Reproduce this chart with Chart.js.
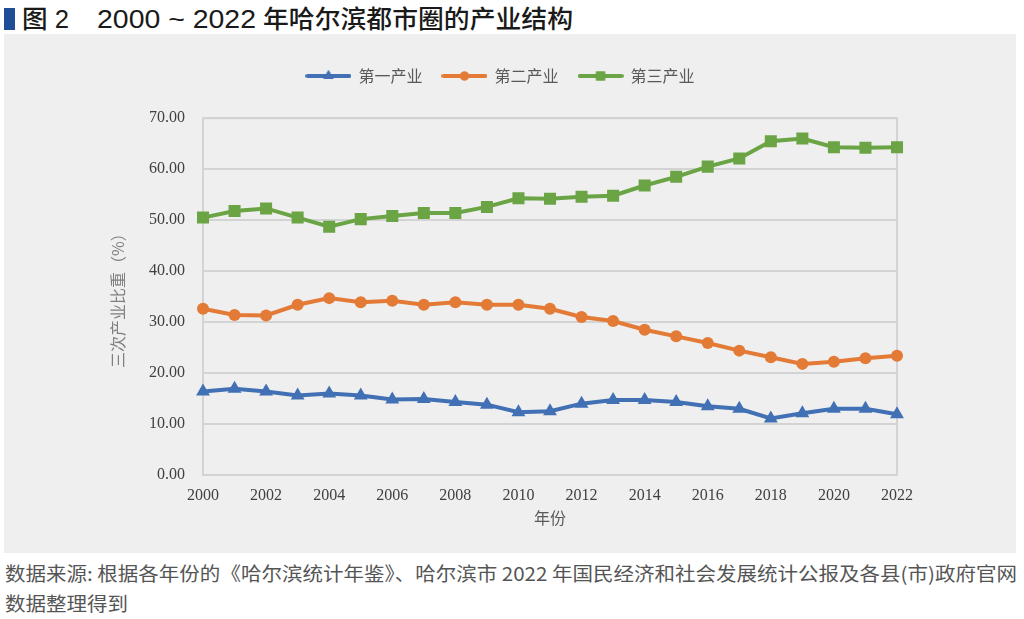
<!DOCTYPE html>
<html lang="zh">
<head>
<meta charset="UTF-8">
<title>2000~2022年哈尔滨都市圈的产业结构</title>
<script src="https://cdn.jsdelivr.net/npm/chart.js"></script>
<style>
    body {
        margin: 0;
        padding: 0;
        background: #fff;
        width: 1024px;
        height: 619px;
        position: relative;
        overflow: hidden;
        font-family: "Noto Sans CJK SC", "Noto Sans", sans-serif;
    }
    .bar {
        position: absolute;
        left: 4px;
        top: 8px;
        width: 11px;
        height: 22px;
        background: #1f4e96;
    }
    .title {
        position: absolute;
        top: 4px;
        font-family: "Liberation Sans", "Noto Sans CJK SC", sans-serif;
        font-size: 25px;
        font-weight: 500;
        color: #1a1a1a;
        white-space: nowrap;
        line-height: 30px;
        transform-origin: 0 0;
    }
    .panel {
        position: absolute;
        left: 4px;
        top: 34px;
        width: 1012px;
        height: 519px;
        background: #eeefee;
    }
    .source {
        position: absolute;
        left: 5px;
        top: 558px;
        font-size: 19px;
        line-height: 30px;
        color: #555;
        white-space: nowrap;
        transform-origin: 0 0;
    }
</style>
</head>
<body>
    <div class="bar"></div>
    <div class="title" id="titleNo" style="left: 22px;">图 2</div>
    <div class="title" id="titleYears" style="left: 97px;">2000 ~ 2022</div>
    <div class="title" id="titleText" style="left: 263px;">年哈尔滨都市圈的产业结构</div>
    <div class="panel"><canvas id="chart" width="1012" height="519"></canvas></div>
    <div class="source" id="source"><span id="line1">数据来源: 根据各年份的《哈尔滨统计年鉴》、哈尔滨市 2022 年国民经济和社会发展统计公报及各县(市)政府官网</span><br>数据整理得到</div>

<script>
    const years = ['2000', '2001', '2002', '2003', '2004', '2005', '2006', '2007', '2008', '2009', '2010', '2011',
        '2012', '2013', '2014', '2015', '2016', '2017', '2018', '2019', '2020', '2021', '2022'];
    const primary = [16.4, 16.9, 16.4, 15.6, 16.0, 15.6, 14.8, 14.9, 14.3, 13.8, 12.3, 12.5,
        14.0, 14.7, 14.7, 14.3, 13.5, 13.0, 11.1, 12.1, 13.0, 13.0, 11.9];
    const secondary = [32.6, 31.4, 31.3, 33.4, 34.7, 33.9, 34.2, 33.4, 33.9, 33.4, 33.4, 32.6,
        31.0, 30.2, 28.5, 27.2, 25.9, 24.4, 23.1, 21.8, 22.2, 22.9, 23.4];
    const tertiary = [50.5, 51.8, 52.3, 50.5, 48.7, 50.2, 50.8, 51.4, 51.4, 52.6, 54.3, 54.2,
        54.6, 54.8, 56.8, 58.5, 60.5, 62.1, 65.5, 66.0, 64.3, 64.2, 64.3];
    const seriesNames = ['第一产业', '第二产业', '第三产业'];
    const colors = ['#4170b4', '#e37a36', '#6aa444'];
    const markers = ['triangle', 'circle', 'rect'];
    const markerSizes = [8, 6, 8.5];

    // stretch/squeeze text blocks to the widths they have in the original
    function fitWidth(id, w) {
        const el = document.getElementById(id);
        el.style.transform = 'scaleX(' + (w / el.getBoundingClientRect().width) + ')';
    }
    document.getElementById('source').style.transform =
        'scaleX(' + (1012 / document.getElementById('line1').getBoundingClientRect().width) + ')';
    fitWidth('titleNo', 47);
    fitWidth('titleYears', 159);
    fitWidth('titleText', 310);

    // small legend icons: line with the marker in the middle
    function legendIcon(color, style, r) {
        const c = document.createElement('canvas');
        c.width = 46;
        c.height = 18;
        const g = c.getContext('2d');
        g.strokeStyle = color;
        g.fillStyle = color;
        g.lineWidth = 4;
        g.lineCap = 'round';
        g.beginPath();
        g.moveTo(2, 9);
        g.lineTo(44, 9);
        g.stroke();
        Chart.helpers.drawPoint(g, { pointStyle: style, radius: r * 0.75, borderWidth: 0 }, 23, 9);
        g.fill();
        return c;
    }

    const frame = {
        id: 'frame',
        beforeDatasetsDraw(chart) {
            const a = chart.chartArea;
            const ctx = chart.ctx;
            ctx.save();
            ctx.strokeStyle = '#d3d3d3';
            ctx.lineWidth = 2;
            ctx.strokeRect(a.left, a.top, a.right - a.left, a.bottom - a.top);
            ctx.restore();
        }
    };

    const datasets = [primary, secondary, tertiary].map((vals, i) => ({
        label: seriesNames[i],
        data: vals,
        borderColor: colors[i],
        backgroundColor: colors[i],
        borderWidth: 4,
        pointStyle: markers[i],
        pointRadius: markerSizes[i],
        pointHoverRadius: markerSizes[i],
        pointBorderWidth: 0,
        tension: 0
    }));

    const icons = colors.map((c, i) => legendIcon(c, markers[i], markerSizes[i]));

    new Chart(document.getElementById('chart'), {
        type: 'line',
        data: { labels: years, datasets: datasets },
        options: {
            responsive: false,
            animation: false,
            layout: { padding: { left: 100, right: 119, top: 14, bottom: 21 } },
            plugins: {
                legend: {
                    position: 'top',
                    weight: 3000,
                    labels: {
                        usePointStyle: true,
                        pointStyleWidth: 44,
                        padding: 20,
                        color: '#595959',
                        font: { family: '"Noto Sans CJK SC"', size: 16 },
                        generateLabels(chart) {
                            return chart.data.datasets.map((ds, i) => ({
                                text: ds.label,
                                pointStyle: icons[i],
                                fillStyle: ds.borderColor,
                                strokeStyle: ds.borderColor,
                                lineWidth: 0,
                                fontColor: '#595959',
                                datasetIndex: i
                            }));
                        }
                    }
                },
                // empty spacer between legend and plot
                subtitle: {
                    display: true,
                    text: '',
                    font: { size: 1 },
                    padding: { top: 0, bottom: 23 }
                },
                tooltip: { enabled: false }
            },
            scales: {
                x: {
                    grid: { display: false, drawTicks: false },
                    border: { display: false },
                    ticks: {
                        autoSkip: false,
                        maxRotation: 0,
                        padding: 11,
                        color: '#404040',
                        font: { family: '"Liberation Serif", serif', size: 16 },
                        callback(v, i) { return i % 2 === 0 ? years[i] : ''; }
                    },
                    title: {
                        display: true,
                        text: '年份',
                        color: '#595959',
                        font: { family: '"Noto Sans CJK SC"', size: 16 }
                    },
                    afterFit(s) { s.height = 57; }
                },
                y: {
                    min: 0,
                    max: 70,
                    grid: { color: '#d3d3d3', lineWidth: 2, drawTicks: false },
                    border: { display: false },
                    ticks: {
                        stepSize: 10,
                        padding: 18,
                        color: '#404040',
                        font: { family: '"Liberation Serif", serif', size: 16 },
                        callback(v) { return v.toFixed(2); }
                    },
                    title: {
                        display: true,
                        text: '三次产业比重（%）',
                        color: '#7f7f7f',
                        font: { family: '"Noto Sans CJK SC"', size: 16 }
                    },
                    afterFit(s) { s.width = 99; }
                }
            }
        },
        plugins: [frame]
    });
</script>
</body>
</html>
